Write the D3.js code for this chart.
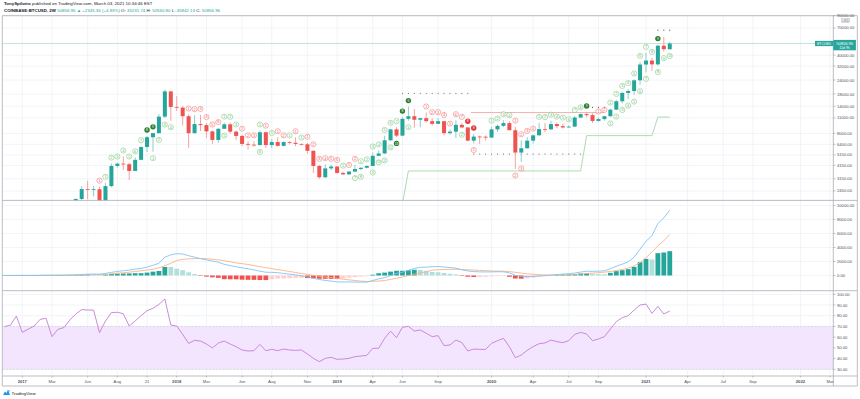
<!DOCTYPE html>
<html><head><meta charset="utf-8">
<script src="https://cdnjs.cloudflare.com/ajax/libs/d3/7.8.5/d3.min.js"></script>
<style>body{margin:0;background:#fff}svg{display:block}text{font-family:"Liberation Sans",Arial,sans-serif}</style>
</head><body><svg id="c" width="860" height="399"></svg>
<script>
// ---------------- DATA (2-week bars, first bar 2016-11-21) ----------------
const firstBar = "2016-11-21";
const opens = [740,765,790,
 998,820,920,1000,1190,1230,1040,1180,1250,1560,2080,2550,2520,2540,1930,2710,4100,4300,4250,3700,4650,6050,7400,8050,11300,19000,
 13800,13600,11400,8050,9700,9500,8350,7000,8800,9650,8300,7600,6450,6350,6300,8200,6300,6700,6200,6700,6600,6450,6400,5600,4100,3250,3900,
 4050,3550,3450,3650,3850,3950,4100,5050,5300,6950,8700,7650,10800,11400,10600,10950,10300,9750,10300,8050,8300,9550,9050,6900,7500,7480,
 7350,8700,9350,9900,8550,5400,5900,6900,7700,8750,8700,9700,9300,9050,9200,11100,11900,11650,10350,10750,11400,13050,15500,18400,19150,23850,
 33000,35800,33100,48600,45200];
const highs = [780,800,1000,
 1150,930,1050,1210,1350,1260,1210,1260,1620,2100,2710,3020,2710,2680,2900,4300,4400,4980,4400,4900,6150,7600,8100,11900,19800,19200,
 17200,14100,11800,11650,11700,9900,8500,8930,9990,9950,8500,7800,6800,6800,8500,8300,7150,7400,6800,6800,7400,6500,6600,5650,4200,4250,4200,
 4100,3650,3700,4200,4000,4150,5400,5650,7600,8800,9100,11200,13900,13200,11100,12300,10950,10950,10350,8650,10500,9950,9100,7900,7650,7700,
 9200,9600,10500,10300,9200,6950,7450,7800,9950,9900,10400,10000,9800,9450,11450,12100,12450,12100,11100,11500,13350,15950,18800,19900,24300,34800,
 41950,37850,49700,58350,52650];
const lows = [720,750,790,
 750,815,910,975,1130,890,1030,1150,1250,1540,1900,2070,2190,1830,1830,2650,3950,3770,3070,3700,4600,5450,5500,8000,11000,10400,
 12700,9400,5930,8000,8400,7300,6450,6600,8750,8000,7000,6150,5750,6100,6250,5950,5900,6100,6100,6400,6150,6250,5300,3550,3150,3200,3750,
 3500,3400,3400,3650,3750,3900,4100,5050,5250,6850,7450,7550,10400,9000,9100,10000,9400,9700,7700,7800,7300,8900,6800,6500,6450,6900,
 7300,8250,9150,8500,3850,4450,5850,6500,7650,8200,8600,8900,8850,9000,9150,10950,11150,9900,10200,10400,11250,12950,14800,16200,17600,21800,
 28100,29000,32300,43000,44950];
const closes = [765,790,998,
 820,920,1000,1190,1230,1040,1180,1250,1560,2080,2550,2520,2540,1930,2710,4100,4300,4250,3700,4650,6050,7400,8050,11300,19000,13800,
 13600,11400,8050,9700,9500,8350,7000,8800,9650,8300,7600,6450,6350,6300,8200,6300,6700,6200,6700,6600,6450,6400,5600,4100,3250,3900,4050,
 3550,3450,3650,3850,3950,4100,5050,5300,6950,8700,7650,10800,11400,10600,10950,10300,9750,10300,8050,8300,9550,9050,6900,7500,7480,7350,
 8700,9350,9900,8550,5400,5900,6900,7700,8750,8700,9700,9300,9050,9200,11100,11900,11650,10350,10750,11400,13050,15500,18400,19150,23850,33000,
 35800,33100,48600,45200,50857];

const macdLine = [6,8,14,
 15,12,15,30,45,45,50,55,75, 100,150,190,210,190,
 300,450,580,680,770,900,1000,1200,1450,1750,2620,2950,
 3120,3070,2830,2620,2400,2240,2070,1900, 1590,1420,1250,1100,960,800,625,465,
 450,400,290,190,90,-20,-200,-380,-570,-700,-800,-910,
 -920,-925,-935,-940,-950,-715,-475,-310,0,285,475,740,1000,1165,1190,
 1260,1285,1215,1140,1050,
 820,650,560,520,510,520,540,530,380,20,-120,-160,-130,-70,-20,50,130,200,260,340,490,
 610,585,625,670,960,1330,1617,1950,2620,3756,4900,5680,7426,8235,9333];
const signalLine = [4,5,7,
 10,11,12,16,22,27,32,36,44, 55,75,98,120,135,
 155,240,330,395,475,570,670,785,900,1100,1400,1740,
 2140,2310,2375,2410,2430,2400,2330,2230, 2120,1960,1795,1695,1575,1420,1265,1115,
 980,845,705,570,430,295,165,30,-110,-230,-315,-405,
 -520,-625,-715,-790,-855,-830,-800,-725,-555,-390,-200,-10,175,365,515,
 757,820,857,885,890,
 857,823,775,730,690,650,625,605,560,450,340,240,170,120,80,65,70,85,110,150,210,
 280,345,410,480,580,710,857,1047,1380,1856,2520,3380,4236,4950,5857];
const macdHist = [2,3,7,
 5,1,3,14,23,18,18,19,31, 45,75,92,90,55,
 145,210,250,285,295,330,330,415,550,650,1220,1210,
 980,760,455,210,-30,-160,-260,-330, -530,-540,-545,-595,-615,-620,-640,-650,
 -530,-445,-415,-380,-340,-315,-365,-410,-460,-470,-485,-505,
 -400,-300,-220,-150,-95,115,325,415,555,675,675,750,825,800,675,
 503,465,358,255,160,
 -37,-173,-215,-210,-180,-130,-85,-75,-180,-430,-460,-400,-300,-190,-100,-15,60,115,150,190,280,
 330,240,215,190,380,620,760,903,1240,1900,2380,2300,3190,3285,3476];
const rsiValues = [69.8,71.3,79.7,
 64.5,67.5,70.4,76.6,77.6,60.5,67.3,68.9,76.0,81.6,85.7,85.3,85.3,64.2,75.1,82.9,83.2,81.9,70.4,75.1,80.1,84.7,86.9,90.6,95.6,71.3,
 70.4,62.6,54.2,57.0,56.4,53.6,49.9,54.5,56.4,53.6,51.1,48.0,47.1,47.4,53.3,47.4,48.6,47.4,48.9,48.0,47.7,48.0,44.3,40.2,37.1,40.2,41.2,
 39.3,39.6,40.2,41.8,42.4,43.0,49.6,49.6,58.9,65.7,59.5,69.2,70.1,65.7,66.7,63.6,60.5,61.4,52.1,52.7,57.3,54.9,47.1,48.9,48.6,48.6,
 54.2,56.7,58.9,51.1,40.8,43.3,47.7,51.1,53.9,54.6,57.3,55.8,54.9,56.7,62.6,64.5,62.9,56.7,58.3,60.5,67.6,74.5,78.2,80.1,85.3,90.0,
 90.9,82.2,88.8,81.6,84.4];

// TD sequential labels: [bar number from first 2017 bar, count, colour, side (a=above,b=below), filled]
const tdMarks = [
 [13,1,"r","a"],
 [14,1,"g","a"],[15,2,"g","a"],[16,3,"g","a"],[17,4,"g","a"],[18,5,"g","a"],[19,6,"g","a"],[20,7,"g","a"],[21,8,"g","a",1],[22,9,"g","a",1],
 [22,1,"g","b"],[23,2,"g","b"],[24,3,"g","b"],[25,4,"g","b"],
 [28,1,"r","a"],[29,2,"r","a"],[30,3,"r","a"],[31,4,"r","a"],[32,5,"r","a"],[33,6,"r","a"],
 [34,1,"g","a"],[35,2,"g","a"],[36,3,"g","a"],[34,5,"g","b"],
 [37,1,"r","a"],[38,2,"r","a"],[39,3,"r","a"],
 [40,1,"g","a"],[40,6,"g","b"],[41,1,"r","a"],[42,1,"g","a"],[43,1,"r","a"],[44,2,"r","a"],
 [45,1,"g","a"],[46,1,"r","a"],[47,1,"g","a"],
 [48,1,"r","a"],[49,2,"r","a"],[50,3,"r","a"],[51,4,"r","a"],[52,5,"r","a"],[53,6,"r","a"],
 [54,1,"g","a"],[55,1,"r","a"],[56,2,"r","a"],
 [57,1,"g","a"],[58,2,"g","a"],[59,3,"g","a"],[60,4,"g","a"],[61,5,"g","a"],[62,6,"g","a"],[63,7,"g","a"],[64,8,"g","a",1],[65,9,"g","a",1],
 [56,7,"g","b"],[57,8,"g","b"],[59,9,"g","b"],[60,10,"g","b"],[61,11,"g","b"],[62,12,"g","b"],[63,13,"g","b",1],[65,1,"g","b"],
 [68,1,"r","a"],[69,2,"r","a"],[70,3,"r","a"],[71,4,"r","a"],[72,5,"r","a"],[73,6,"r","a"],[74,7,"r","a"],[75,8,"r","a",1],[76,9,"r","a",1],
 [74,2,"g","b"],[76,1,"r","b"],
 [79,1,"g","a"],[80,2,"g","a"],[81,3,"g","a"],[82,4,"g","a"],
 [83,1,"r","a"],[84,2,"r","a"],[85,3,"r","a"],[86,4,"r","a"],[83,2,"r","b"],[84,3,"r","b"],
 [87,1,"g","a"],[88,2,"g","a"],[89,3,"g","a"],[90,4,"g","a"],[91,5,"g","a"],[92,6,"g","a"],[93,7,"g","a"],[94,8,"g","a"],[95,9,"g","a",1],
 [97,1,"r","a"],[98,2,"r","a"],
 [99,1,"g","a"],[100,2,"g","a"],[101,3,"g","a"],[102,4,"g","a"],[103,5,"g","a"],[104,6,"g","a"],[105,7,"g","a"],[106,8,"g","a"],[107,9,"g","a",1],
 [99,1,"g","b"],[100,2,"g","b"],[101,3,"g","b"],[102,4,"g","b"],[103,5,"g","b"],[104,6,"g","b"],[105,7,"g","b"],[107,8,"g","b"],[108,9,"g","b"],[109,10,"g","b"]
];
// TDST levels: [from bar, to bar, price]
const tdstSupport = [[64,64,1900],[65,94,3700],[95,106,7650],[107,109,11200]];
const tdstResistance = [[76,98,12300]];
const riskDots = [[64,75,18270],[76,94,5245],[96,98,13670],[107,109,66900]];

const priceTicks = [90000,70000,40000,32000,24000,18000,14000,11000,8000,6400,5150,4150,3150,2450];
const macdTicks = [10000,8000,6000,4000,2000,0];
const rsiTicks = [100,90,80,70,60,50,40,30];
const timeTickLabels = ["2017","Mar","Jun","Aug","21","2018","Mar","Jun","Aug","Nov","2019","Apr","Jun","Sep","2020","Apr","Jul","Sep","2021","Apr","Jul","Sep","2022","Mar"];
const timeTickDates = ["2017-01-02","2017-03-13","2017-06-05","2017-08-14","2017-10-23","2018-01-01","2018-03-12","2018-06-04","2018-08-13","2018-11-05","2019-01-07","2019-04-01","2019-06-10","2019-09-02","2020-01-06","2020-04-13","2020-07-06","2020-09-14","2021-01-04","2021-04-12","2021-07-05","2021-09-13","2022-01-03","2022-03-14"];

// ---------------- BAR CALENDAR (2W bars restart at first Monday of each year) ----------------
function barCalendar(y0, y1){
  const out=[];
  for(let y=y0;y<=y1;y++){
    let d=new Date(Date.UTC(y,0,1));
    while(d.getUTCDay()!==1) d=new Date(d.getTime()+864e5);
    while(d.getUTCFullYear()===y){ out.push(d); d=new Date(d.getTime()+14*864e5); }
  }
  return out;
}
const iso = d3.utcFormat("%Y-%m-%d");
const cal = barCalendar(2016,2022).map(iso);
const k0 = cal.indexOf(firstBar);
const kOf = s => cal.indexOf(s) - k0;
const K17 = kOf("2017-01-02");
const bars = opens.map((o,k)=>({k,o,h:highs[k],l:lows[k],c:closes[k]}));

// ---------------- LAYOUT ----------------
const L=2.3, R=833.3, FR=857.3;
const pT=15.7, pB=200.4, mT=200.4, mB=290.7, rT=290.7, rB=376, aB=386;
const x = d3.scaleLinear().domain([K17, K17+105]).range([22.3, 646]);
const yP = d3.scaleLog().domain([2036, 90070]).range([200, 15.7]);
const yM = d3.scaleLinear().domain([-2171, 10686]).range([290.7, 200.7]);
const yR = d3.scaleLinear().domain([23.75, 103.36]).range([376, 290.7]);

const UP="#26a69a", DN="#ef5350", UPW="#8fcfc7", DNW="#f4a3a1";
const svg = d3.select("#c");
const defs = svg.append("defs");
function clip(id,y0,y1){ defs.append("clipPath").attr("id",id).append("rect").attr("x",L).attr("y",y0).attr("width",R-L).attr("height",y1-y0); }
clip("cp",pT,pB); clip("cm",mT,mB); clip("cr",rT,rB);

// grid
const grid = svg.append("g").attr("stroke","#eef1f6").attr("stroke-width",0.8);
const tickK = timeTickDates.map(kOf);
tickK.forEach(k=>grid.append("line").attr("x1",x(k)).attr("x2",x(k)).attr("y1",pT).attr("y2",rB));
priceTicks.forEach(v=>grid.append("line").attr("x1",L).attr("x2",R).attr("y1",yP(v)).attr("y2",yP(v)));
macdTicks.forEach(v=>grid.append("line").attr("x1",L).attr("x2",R).attr("y1",yM(v)).attr("y2",yM(v)));
rsiTicks.forEach(v=>grid.append("line").attr("x1",L).attr("x2",R).attr("y1",yR(v)).attr("y2",yR(v)));

// ---------------- PRICE PANE ----------------
const gp = svg.append("g").attr("clip-path","url(#cp)");
gp.append("line").attr("x1",L).attr("x2",R).attr("y1",yP(closes[closes.length-1])).attr("y2",yP(closes[closes.length-1]))
  .attr("stroke","#9fd3cd").attr("stroke-width",0.6);
const supPts=[]; tdstSupport.forEach(([a,b,v])=>{for(let i=a;i<=b;i++) supPts.push([K17+i,v]);});
gp.append("path").attr("d",d3.line().x(d=>x(d[0])).y(d=>yP(d[1]))(supPts)).attr("fill","none").attr("stroke","#a5d6a7").attr("stroke-width",0.9);
tdstResistance.forEach(([a,b,v])=>gp.append("line").attr("x1",x(K17+a)-3).attr("x2",x(K17+b)).attr("y1",yP(v)).attr("y2",yP(v)).attr("stroke","#f6a9a7").attr("stroke-width",0.9));
riskDots.forEach(([a,b,v])=>{for(let i=a;i<=b;i++) gp.append("circle").attr("cx",x(K17+i)).attr("cy",yP(v)).attr("r",0.55).attr("fill","#555");});
const cw=4;
bars.forEach(b=>{
  const up=b.c>=b.o, cx=x(b.k);
  gp.append("line").attr("x1",cx).attr("x2",cx).attr("y1",yP(b.h)).attr("y2",yP(b.l)).attr("stroke",up?UPW:DNW).attr("stroke-width",1);
  const y1=yP(Math.max(b.o,b.c)), y2=yP(Math.min(b.o,b.c));
  gp.append("rect").attr("x",cx-cw/2).attr("y",y1).attr("width",cw).attr("height",Math.max(0.8,y2-y1)).attr("fill",up?UP:DN);
});
tdMarks.forEach(([i,n,col,side,filled])=>{
  const b=bars[K17+i], cx=x(b.k);
  const cy = side==="a" ? yP(b.h)-6 : yP(b.l)+6.5;
  const g=gp.append("g").attr("transform",`translate(${cx},${cy})`);
  const c = col==="g" ? "#5cb860" : "#ef5350";
  if(filled){
    g.append("circle").attr("r",2.7).attr("fill",col==="g"?"#2e7d32":"#e53935");
    g.append("text").attr("text-anchor","middle").attr("dy","1.3").attr("font-size",3.4).attr("fill","#fff").text(n);
  } else {
    g.append("circle").attr("r",2.6).attr("fill","#fff").attr("fill-opacity",0.7).attr("stroke",c).attr("stroke-width",0.45);
    g.append("text").attr("text-anchor","middle").attr("dy",n>9?"1.1":"1.35").attr("font-size",n>9?2.9:3.8).attr("fill",c).text(n);
  }
});

// ---------------- MACD PANE ----------------
const gm = svg.append("g").attr("clip-path","url(#cm)");
macdHist.forEach((v,k)=>{
  const prev = k>0?macdHist[k-1]:0;
  const col = v>=0 ? (v>=prev?"#26a69a":"#b2dfdb") : (v<prev?"#ef5350":"#ffcdd2");
  const y0=yM(0), y1=yM(v);
  gm.append("rect").attr("x",x(k)-2.4).attr("width",4.8).attr("y",Math.min(y0,y1)).attr("height",Math.max(0.5,Math.abs(y1-y0))).attr("fill",col);
});
const lineK = d3.line().x((d,k)=>x(k));
gm.append("path").attr("d",lineK.y(d=>yM(d))(signalLine)).attr("fill","none").attr("stroke","#f9b384").attr("stroke-width",0.9);
gm.append("path").attr("d",lineK.y(d=>yM(d))(macdLine)).attr("fill","none").attr("stroke","#7fc4f5").attr("stroke-width",0.9);

// ---------------- RSI PANE ----------------
const gr = svg.append("g").attr("clip-path","url(#cr)");
gr.append("rect").attr("x",L).attr("width",R-L).attr("y",yR(70)).attr("height",yR(30)-yR(70)).attr("fill","#f3e5fd");
[70,30].forEach(v=>gr.append("line").attr("x1",L).attr("x2",R).attr("y1",yR(v)).attr("y2",yR(v)).attr("stroke","#c8c8cc").attr("stroke-width",0.6).attr("stroke-dasharray","2,1.5"));
gr.append("path").attr("d",lineK.y(d=>yR(d))(rsiValues)).attr("fill","none").attr("stroke","#c47fd6").attr("stroke-width",0.9);

// ---------------- FRAME & AXES ----------------
const fr = svg.append("g").attr("stroke","#b4b6bc").attr("stroke-width",0.9);
[pT,pB,mB,rB,aB].forEach(y=>fr.append("line").attr("x1",L).attr("x2",FR).attr("y1",y).attr("y2",y));
[L,R,FR].forEach(xx=>fr.append("line").attr("x1",xx).attr("x2",xx).attr("y1",pT).attr("y2",aB));

const ax = svg.append("g").attr("font-size",4.2).attr("fill","#50535e");
function rightLabels(vals, sc){
  vals.forEach(v=>{
    const y=sc(v);
    ax.append("line").attr("x1",R).attr("x2",R+2.2).attr("y1",y).attr("y2",y).attr("stroke","#9598a1").attr("stroke-width",0.6);
    ax.append("text").attr("x",R+3.6).attr("y",y+1.5).text(d3.format(".2f")(v));
  });
}
rightLabels(priceTicks,yP); rightLabels(macdTicks,yM); rightLabels(rsiTicks,yR);
ax.append("rect").attr("x",841.6).attr("y",18.4).attr("width",8).attr("height",4.3).attr("fill","#fff").attr("stroke","#b4b6bc").attr("stroke-width",0.5);
ax.append("text").attr("x",845.6).attr("y",21.6).attr("text-anchor","middle").attr("font-size",3.2).text("USD");
timeTickLabels.forEach((t,j)=>{
  const xx=x(tickK[j]);
  ax.append("line").attr("x1",xx).attr("x2",xx).attr("y1",rB).attr("y2",rB+1.5).attr("stroke","#9598a1").attr("stroke-width",0.6);
  ax.append("text").attr("x",xx).attr("y",382.6).attr("text-anchor","middle").attr("font-weight",/^\d{4}$/.test(t)?"bold":"normal").text(t);
});
const lastC = closes[closes.length-1], yl = yP(lastC);
svg.append("rect").attr("x",815).attr("y",yl-2.6).attr("width",18.3).attr("height",5.2).attr("fill",UP);
svg.append("text").attr("x",824.1).attr("y",yl+1.2).attr("text-anchor","middle").attr("font-size",3.4).attr("fill","#fff").text("BTCUSD");
svg.append("rect").attr("x",R).attr("y",yl-3.6).attr("width",22.6).attr("height",10.4).attr("fill",UP);
svg.append("text").attr("x",R+11.3).attr("y",yl+1.4).attr("text-anchor","middle").attr("font-size",4).attr("fill","#fff").text(d3.format(".2f")(50856.96));
svg.append("text").attr("x",R+11.3).attr("y",yl+5.6).attr("text-anchor","middle").attr("font-size",3.5).attr("fill","#fff").text("11d 9h");

const h1 = svg.append("text").attr("x",4).attr("y",5.4).attr("font-size",4.4).attr("fill","#131722");
h1.append("tspan").attr("font-weight","bold").text("TonySpilotro");
h1.append("tspan").text(" published on TradingView.com, March 03, 2021 10:34:46 EST");
const h2 = svg.append("text").attr("x",4).attr("y",11.8).attr("font-size",4.4).attr("fill","#131722");
h2.append("tspan").attr("font-weight","bold").text("COINBASE:BTCUSD, 2W ");
const TL="#26a69a";
[["50856.96 \u25B2 +2345.36 (+4.83%)",TL],[" O: ","#131722"],["45231.74",TL],[" H: ","#131722"],["52660.80",TL],[" L: ","#131722"],["45842.13",TL],[" C: ","#131722"],["50856.96",TL]]
 .forEach(([t,c])=>h2.append("tspan").attr("fill",c).text(t));

const lg = svg.append("g").attr("transform","translate(3,389)");
lg.append("path").attr("d","M0,6 L2,2.5 L3.5,4 L5,0.8 L7,6 Z").attr("fill","#2196f3");
lg.append("circle").attr("cx",5.6).attr("cy",2).attr("r",1.1).attr("fill","#64b5f6");
svg.append("text").attr("x",11.5).attr("y",394.6).attr("font-size",4.4).attr("fill","#131722").text("TradingView");
</script></body></html>
